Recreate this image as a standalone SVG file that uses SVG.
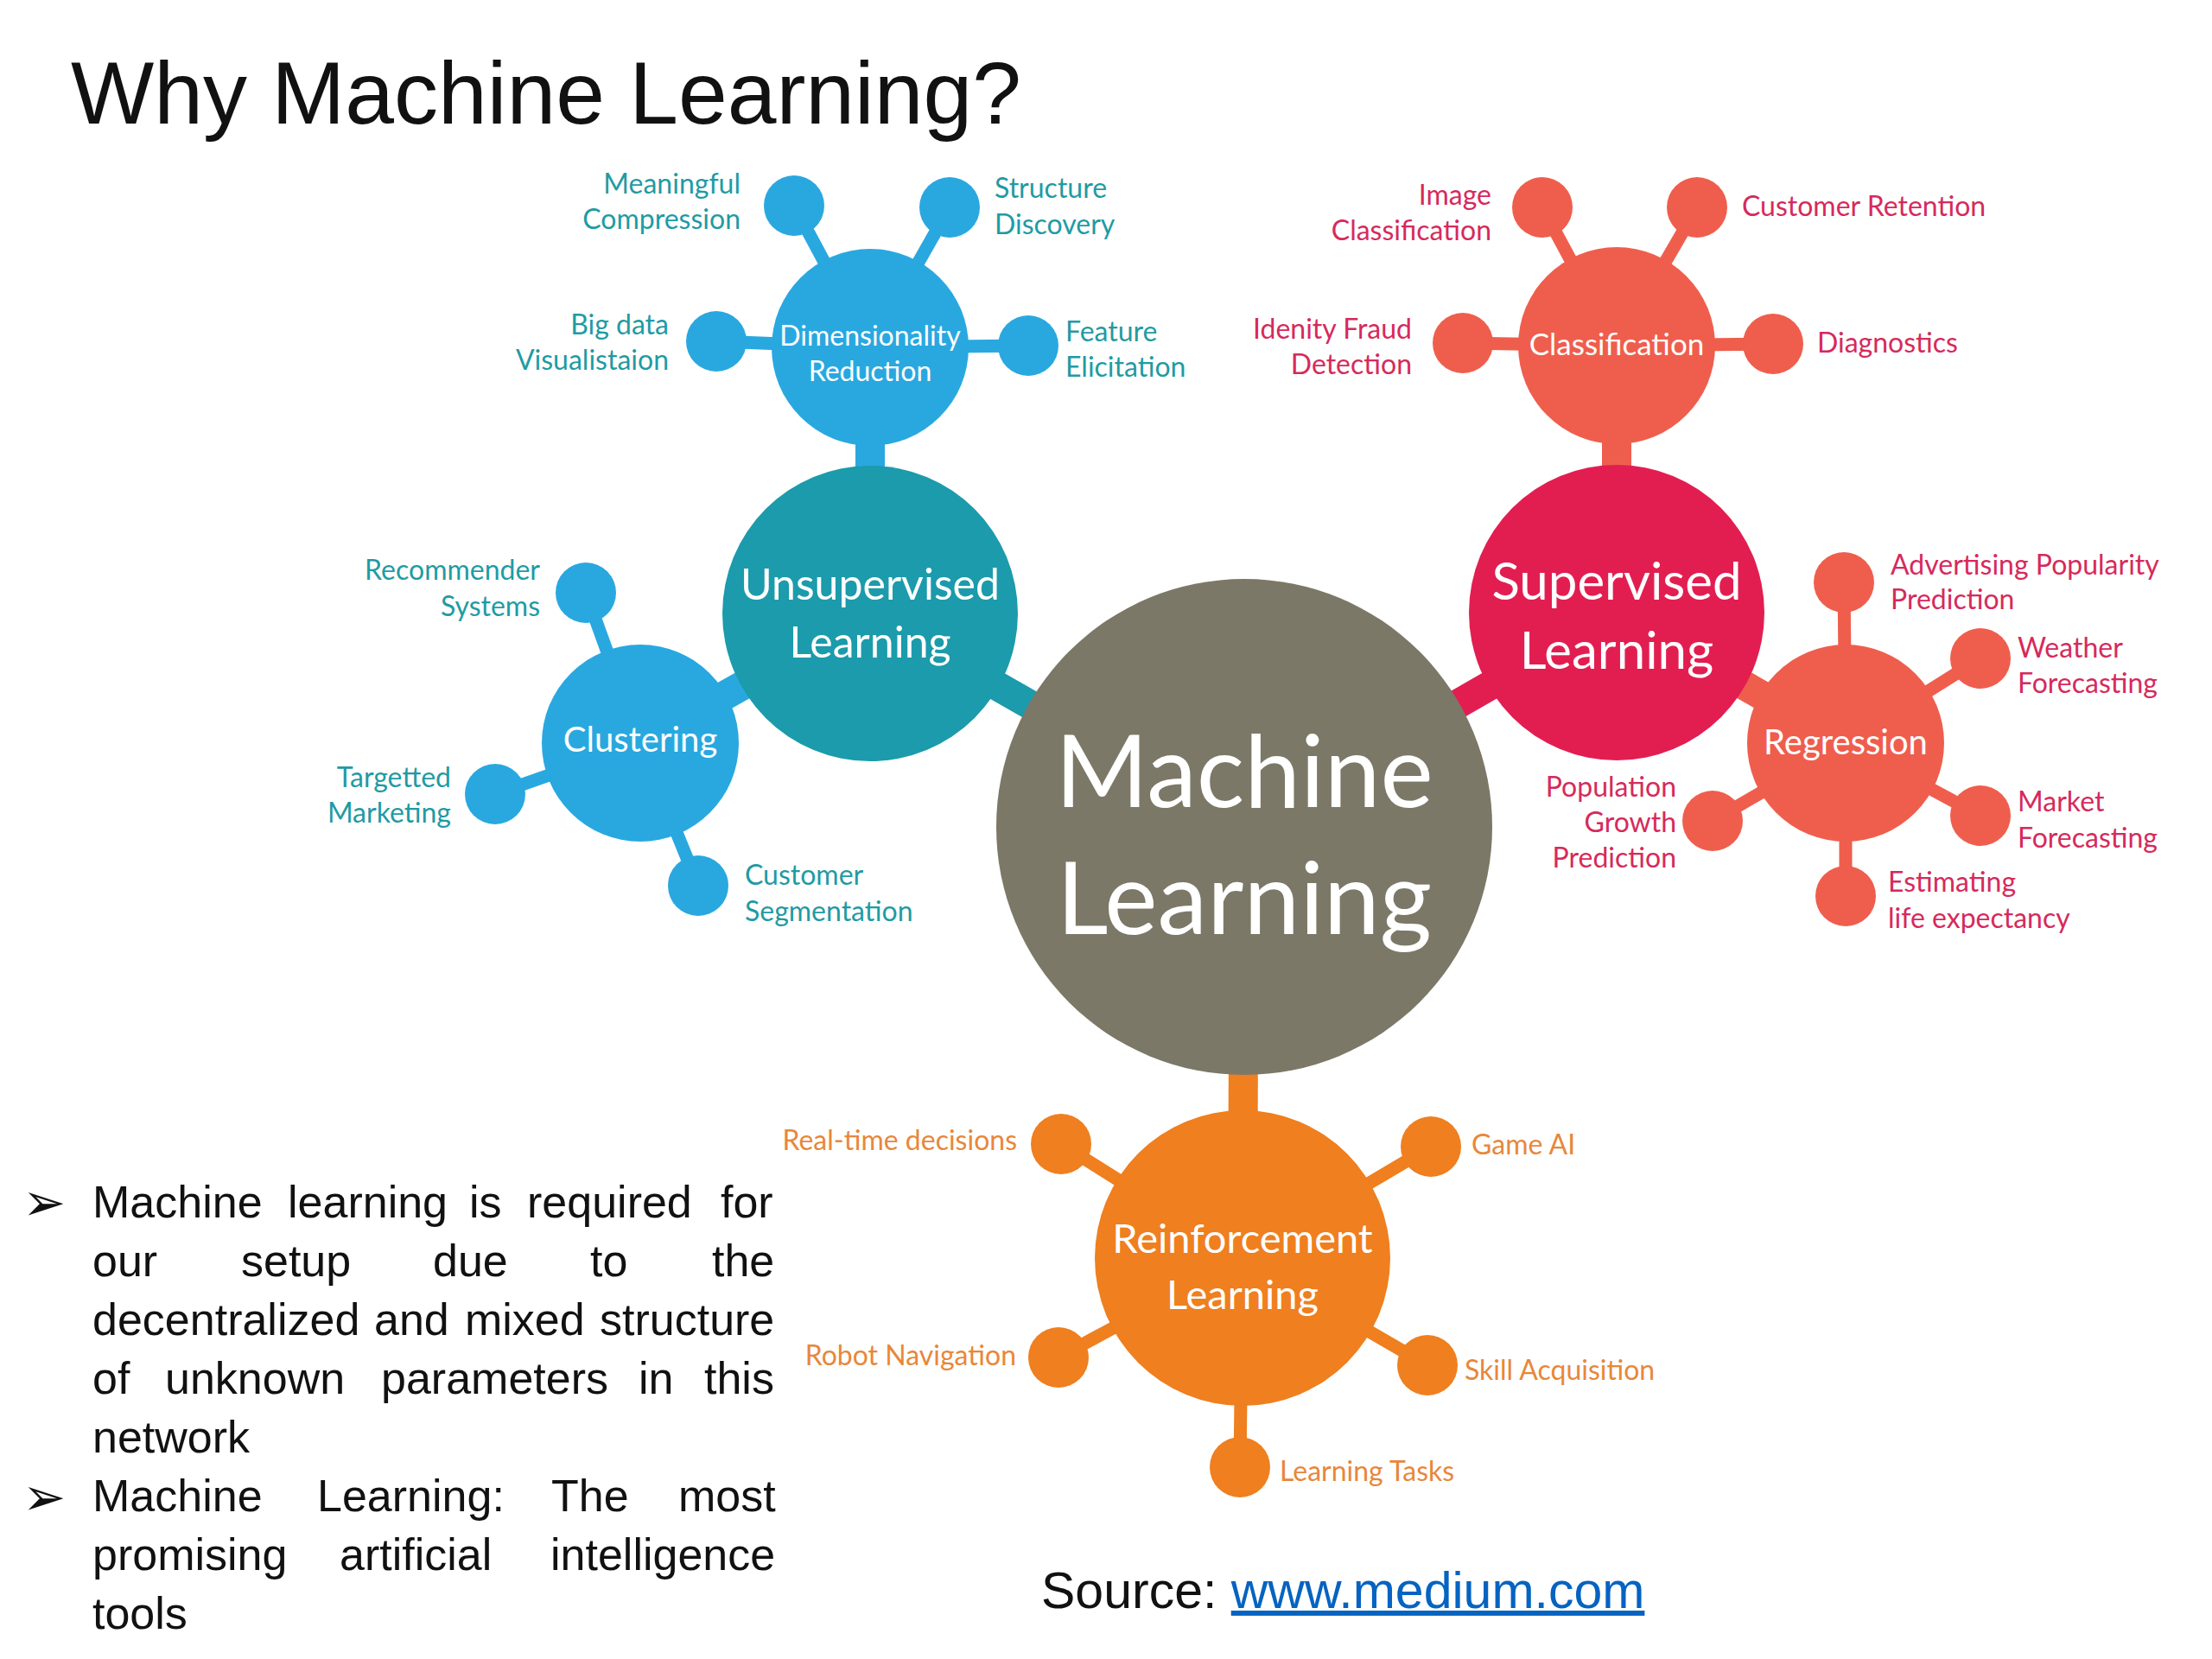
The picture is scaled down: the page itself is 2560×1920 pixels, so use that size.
<svg xmlns="http://www.w3.org/2000/svg" width="2560" height="1920" viewBox="0 0 2560 1920">
<style>
text{font-family:Lato,"Open Sans","Liberation Sans",sans-serif}
.title{font-family:"Liberation Sans",Arial,sans-serif;font-size:102px;fill:#111}
.body{font-family:"Liberation Sans",Arial,sans-serif;font-size:52px;fill:#111}
.bul{font-family:"DejaVu Sans",sans-serif;font-size:60px;fill:#111}
.src{font-family:"Liberation Sans",Arial,sans-serif;font-size:59px;fill:#111}
.link{fill:#0563c1;text-decoration:underline}
.lbl{font-size:32px}
.lt{fill:#1f9ba4}.lr{fill:#d62a5c}.lo{fill:#e8873a}
.in{fill:#fff;text-anchor:middle}
.e{text-anchor:end}
.blue{fill:#29a8e0}.teal{fill:#1b9bab}.gray{fill:#7c7867}.crim{fill:#e21e51}.coral{fill:#ef5e4d}.orng{fill:#ef7f1f}
.sb{stroke:#29a8e0}.st{stroke:#1b9bab}.sc{stroke:#e21e51}.sk{stroke:#ef5e4d}.so{stroke:#ef7f1f}
.stem{stroke-width:15;fill:none}
.bar{stroke-width:34;fill:none}
</style>
<rect width="2560" height="1920" fill="#fff"/>
<text class="title" x="82" y="143">Why Machine Learning?</text>

<g id="connectors">
<line class="bar st" x1="1007" y1="710" x2="1440" y2="957"/>
<line class="bar sc" x1="1871" y1="709" x2="1440" y2="957"/>
<line class="bar so" x1="1440" y1="957" x2="1438" y2="1456"/>
<line class="bar sb" x1="1007" y1="402" x2="1007" y2="710"/>
<line class="bar sb" x1="741" y1="860" x2="1007" y2="710"/>
<line class="bar sk" x1="1871" y1="400" x2="1871" y2="709"/>
<line class="bar sk" x1="2136" y1="860" x2="1871" y2="709"/>
<g class="stem sb">
<line x1="919" y1="238" x2="1007" y2="402"/>
<line x1="1099" y1="240" x2="1007" y2="402"/>
<line x1="829" y1="395" x2="1007" y2="402"/>
<line x1="1190" y1="400" x2="1007" y2="402"/>
<line x1="678" y1="686" x2="741" y2="860"/>
<line x1="573" y1="919" x2="741" y2="860"/>
<line x1="808" y1="1025" x2="741" y2="860"/>
</g>
<g class="stem sk">
<line x1="1785" y1="240" x2="1871" y2="400"/>
<line x1="1964" y1="240" x2="1871" y2="400"/>
<line x1="1693" y1="397" x2="1871" y2="400"/>
<line x1="2052" y1="398" x2="1871" y2="400"/>
<line x1="2134" y1="674" x2="2136" y2="860"/>
<line x1="2292" y1="762" x2="2136" y2="860"/>
<line x1="2292" y1="944" x2="2136" y2="860"/>
<line x1="2136" y1="1037" x2="2136" y2="860"/>
<line x1="1982" y1="950" x2="2136" y2="860"/>
</g>
<g class="stem so">
<line x1="1228" y1="1324" x2="1438" y2="1456"/>
<line x1="1656" y1="1327" x2="1438" y2="1456"/>
<line x1="1225" y1="1571" x2="1438" y2="1456"/>
<line x1="1652" y1="1580" x2="1438" y2="1456"/>
<line x1="1435" y1="1698" x2="1438" y2="1456"/>
</g>
</g>

<g id="machine-learning">
<circle class="gray" cx="1440" cy="957" r="287"/>
<text class="in" x="1440" y="934" font-size="116">Machine</text>
<text class="in" x="1440" y="1081" font-size="116">Learning</text>
</g>

<g id="unsupervised-learning">
<circle class="teal" cx="1007" cy="710" r="171"/>
<text class="in" x="1007" y="694" font-size="50">Unsupervised</text>
<text class="in" x="1007" y="761" font-size="50">Learning</text>
</g>

<g id="dimensionality-reduction">
<circle class="blue" cx="1007" cy="402" r="114"/>
<text class="in" x="1007" y="400" font-size="32">Dimensionality</text>
<text class="in" x="1007" y="441" font-size="32">Reduction</text>
</g>
<g id="meaningful-compression">
<circle class="blue" cx="919" cy="238" r="35"/>
<text class="lbl lt e" x="857" y="224">Meaningful</text>
<text class="lbl lt e" x="857" y="265">Compression</text>
</g>
<g id="structure-discovery">
<circle class="blue" cx="1099" cy="240" r="35"/>
<text class="lbl lt" x="1151" y="229">Structure</text>
<text class="lbl lt" x="1151" y="271">Discovery</text>
</g>
<g id="big-data-visualisation">
<circle class="blue" cx="829" cy="395" r="35"/>
<text class="lbl lt e" x="774" y="387">Big data</text>
<text class="lbl lt e" x="774" y="428">Visualistaion</text>
</g>
<g id="feature-elicitation">
<circle class="blue" cx="1190" cy="400" r="35"/>
<text class="lbl lt" x="1233" y="395">Feature</text>
<text class="lbl lt" x="1233" y="436">Elicitation</text>
</g>

<g id="clustering">
<circle class="blue" cx="741" cy="860" r="114"/>
<text class="in" x="741" y="870" font-size="40">Clustering</text>
</g>
<g id="recommender-systems">
<circle class="blue" cx="678" cy="686" r="35"/>
<text class="lbl lt e" x="625" y="671">Recommender</text>
<text class="lbl lt e" x="625" y="713">Systems</text>
</g>
<g id="targetted-marketing">
<circle class="blue" cx="573" cy="919" r="35"/>
<text class="lbl lt e" x="522" y="911">Targetted</text>
<text class="lbl lt e" x="522" y="952">Marketing</text>
</g>
<g id="customer-segmentation">
<circle class="blue" cx="808" cy="1025" r="35"/>
<text class="lbl lt" x="862" y="1024">Customer</text>
<text class="lbl lt" x="862" y="1066">Segmentation</text>
</g>

<g id="supervised-learning">
<circle class="crim" cx="1871" cy="709" r="171"/>
<text class="in" x="1871" y="694" font-size="60">Supervised</text>
<text class="in" x="1871" y="774" font-size="60">Learning</text>
</g>

<g id="classification">
<circle class="coral" cx="1871" cy="400" r="114"/>
<text class="in" x="1871" y="411" font-size="35">Classification</text>
</g>
<g id="image-classification">
<circle class="coral" cx="1785" cy="240" r="35"/>
<text class="lbl lr e" x="1726" y="237">Image</text>
<text class="lbl lr e" x="1726" y="278">Classification</text>
</g>
<g id="customer-retention">
<circle class="coral" cx="1964" cy="240" r="35"/>
<text class="lbl lr" x="2016" y="250">Customer Retention</text>
</g>
<g id="identity-fraud-detection">
<circle class="coral" cx="1693" cy="397" r="35"/>
<text class="lbl lr e" x="1634" y="392">Idenity Fraud</text>
<text class="lbl lr e" x="1634" y="433">Detection</text>
</g>
<g id="diagnostics">
<circle class="coral" cx="2052" cy="398" r="35"/>
<text class="lbl lr" x="2103" y="408">Diagnostics</text>
</g>

<g id="regression">
<circle class="coral" cx="2136" cy="860" r="114"/>
<text class="in" x="2136" y="873" font-size="40">Regression</text>
</g>
<g id="advertising-popularity-prediction">
<circle class="coral" cx="2134" cy="674" r="35"/>
<text class="lbl lr" x="2188" y="665">Advertising Popularity</text>
<text class="lbl lr" x="2188" y="705">Prediction</text>
</g>
<g id="weather-forecasting">
<circle class="coral" cx="2292" cy="762" r="35"/>
<text class="lbl lr" x="2335" y="761">Weather</text>
<text class="lbl lr" x="2335" y="802">Forecasting</text>
</g>
<g id="market-forecasting">
<circle class="coral" cx="2292" cy="944" r="35"/>
<text class="lbl lr" x="2335" y="939">Market</text>
<text class="lbl lr" x="2335" y="981">Forecasting</text>
</g>
<g id="estimating-life-expectancy">
<circle class="coral" cx="2136" cy="1037" r="35"/>
<text class="lbl lr" x="2185" y="1032">Estimating</text>
<text class="lbl lr" x="2185" y="1074">life expectancy</text>
</g>
<g id="population-growth-prediction">
<circle class="coral" cx="1982" cy="950" r="35"/>
<text class="lbl lr e" x="1940" y="922">Population</text>
<text class="lbl lr e" x="1940" y="963">Growth</text>
<text class="lbl lr e" x="1940" y="1004">Prediction</text>
</g>

<g id="reinforcement-learning">
<circle class="orng" cx="1438" cy="1456" r="171"/>
<text class="in" x="1438" y="1450" font-size="47">Reinforcement</text>
<text class="in" x="1438" y="1515" font-size="47">Learning</text>
</g>
<g id="real-time-decisions">
<circle class="orng" cx="1228" cy="1324" r="35"/>
<text class="lbl lo e" x="1177" y="1331">Real-time decisions</text>
</g>
<g id="game-ai">
<circle class="orng" cx="1656" cy="1327" r="35"/>
<text class="lbl lo" x="1703" y="1336">Game AI</text>
</g>
<g id="robot-navigation">
<circle class="orng" cx="1225" cy="1571" r="35"/>
<text class="lbl lo e" x="1176" y="1580">Robot Navigation</text>
</g>
<g id="skill-acquisition">
<circle class="orng" cx="1652" cy="1580" r="35"/>
<text class="lbl lo" x="1695" y="1597">Skill Acquisition</text>
</g>
<g id="learning-tasks">
<circle class="orng" cx="1435" cy="1698" r="35"/>
<text class="lbl lo" x="1481" y="1714">Learning Tasks</text>
</g>

<g id="bullets">
<text class="bul" x="26" y="1412">➢</text>
<text class="bul" x="26" y="1753">➢</text>
<text class="body" y="1409"><tspan x="107">Machine</tspan><tspan x="333">learning</tspan><tspan x="543">is</tspan><tspan x="610">required</tspan><tspan x="834">for</tspan></text>
<text class="body" y="1477"><tspan x="107">our</tspan><tspan x="279">setup</tspan><tspan x="501">due</tspan><tspan x="683">to</tspan><tspan x="824">the</tspan></text>
<text class="body" y="1545"><tspan x="107">decentralized</tspan><tspan x="433">and</tspan><tspan x="538">mixed</tspan><tspan x="694">structure</tspan></text>
<text class="body" y="1613"><tspan x="107">of</tspan><tspan x="191">unknown</tspan><tspan x="441">parameters</tspan><tspan x="739">in</tspan><tspan x="815">this</tspan></text>
<text class="body" x="107" y="1681">network</text>
<text class="body" y="1749"><tspan x="107">Machine</tspan><tspan x="367">Learning:</tspan><tspan x="638">The</tspan><tspan x="785">most</tspan></text>
<text class="body" y="1817"><tspan x="107">promising</tspan><tspan x="393">artificial</tspan><tspan x="637">intelligence</tspan></text>
<text class="body" x="107" y="1885">tools</text>
</g>

<text class="src" x="1205" y="1861">Source: <tspan class="link">www.medium.com</tspan></text>
</svg>
